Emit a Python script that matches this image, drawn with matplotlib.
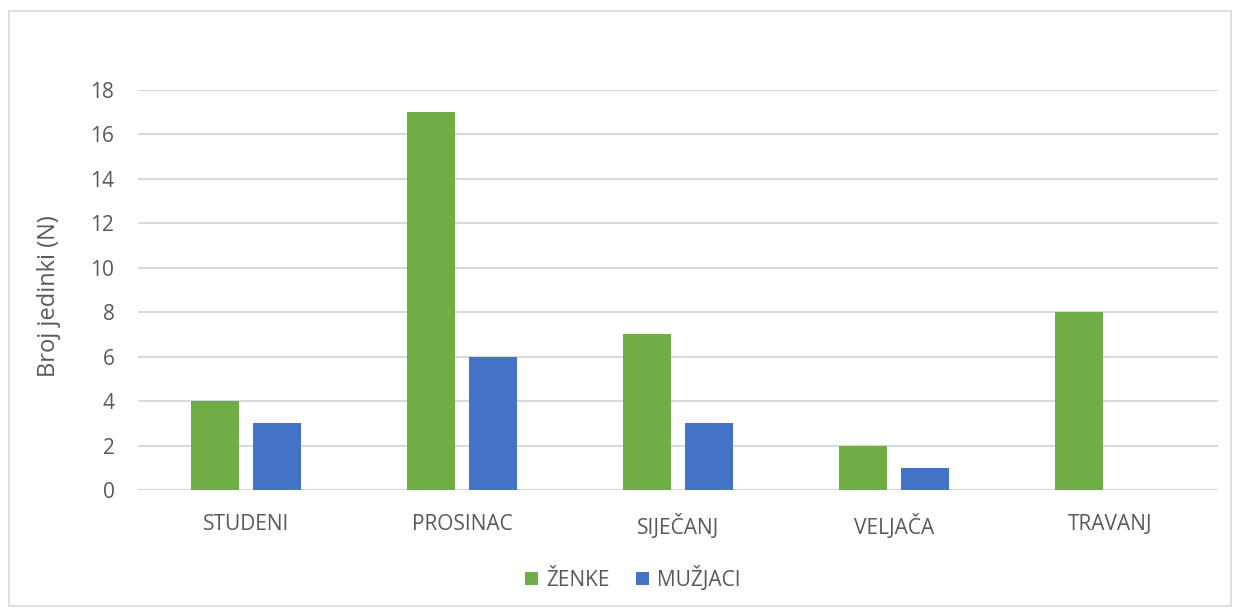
import matplotlib
matplotlib.use("Agg")
import matplotlib.pyplot as plt
import numpy as np
from matplotlib.patches import Rectangle

plt.rcParams["font.family"] = ["Open Sans", "DejaVu Sans"]

months = ["STUDENI", "PROSINAC", "SIJEČANJ", "VELJAČA", "TRAVANJ"]
zenke = [4, 17, 7, 2, 8]
muzjaci = [3, 6, 3, 1, 0]
yticks = [0, 2, 4, 6, 8, 10, 12, 14, 16, 18]

GREEN = "#70ad47"
BLUE = "#4472c4"
TXT = "#595959"
GRID = "#d9d9d9"

fig = plt.figure(figsize=(12.39, 6.09), dpi=100)
ax = fig.add_axes([138 / 1239, 119 / 609, 1080 / 1239, 400 / 609])

x = np.arange(len(months))
w = 0.222
off = 0.142
ax.bar(x - off, zenke, width=w, color=GREEN, label="ŽENKE", zorder=3)
ax.bar(x + off, muzjaci, width=w, color=BLUE, label="MUŽJACI", zorder=3)

ax.set_xlim(-0.5, len(months) - 0.5)
ax.set_ylim(0, 18)
ax.set_yticks(yticks)
ax.set_xticks(x)
ax.set_xticklabels(months)
ax.tick_params(axis="both", length=0, labelsize=15, colors=TXT)
ax.tick_params(axis="y", pad=17)
ax.tick_params(axis="x", pad=17)
ax.grid(True, axis="y", color=GRID, lw=1.5, zorder=0)
for s in ax.spines.values():
    s.set_visible(False)
ax.axhline(0, color=GRID, lw=1.5, zorder=2)
ax.set_ylabel("Broj jedinki (N)", fontsize=17, color=TXT)
ax.yaxis.set_label_coords(-0.071, 0.485)

leg = fig.legend(loc="center", bbox_to_anchor=(633 / 1239, 1 - 578 / 609), ncol=2,
                 frameon=False, fontsize=15, handlelength=0.6, handleheight=0.6,
                 handletextpad=0.4, columnspacing=1.3)
for t in leg.get_texts():
    t.set_color(TXT)

fig.patches.append(Rectangle((9 / 1239, 3 / 609), 1222 / 1239, 595 / 609,
                             transform=fig.transFigure, fill=False,
                             edgecolor=GRID, lw=1.2))

fig.savefig("out.png", dpi=100, facecolor="white")
